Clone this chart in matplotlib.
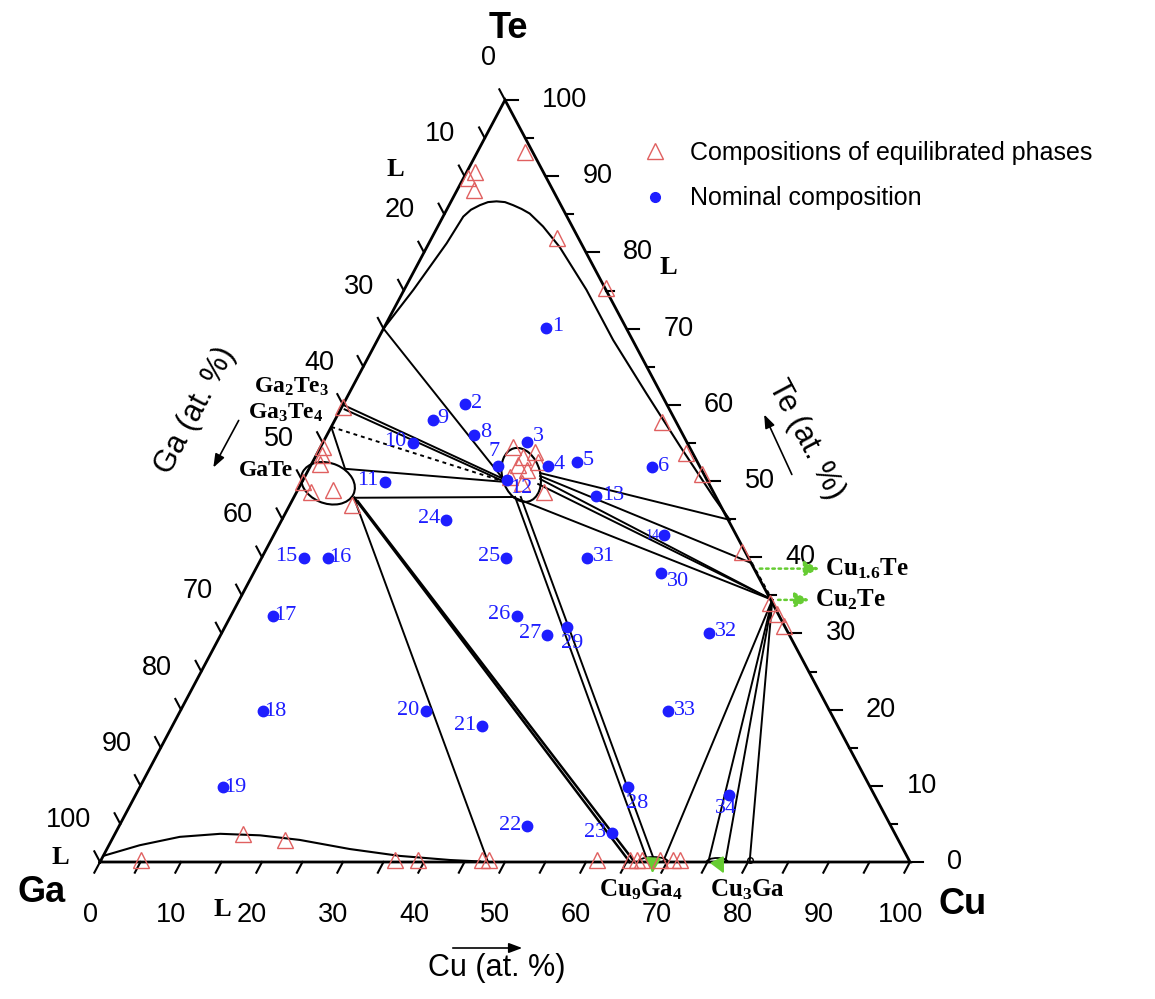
import numpy as np
import matplotlib.pyplot as plt
from matplotlib.patches import Ellipse, Arc
from matplotlib.lines import Line2D

plt.rcParams['font.family'] = ['Liberation Sans', 'DejaVu Sans']
plt.rcParams['mathtext.fontset'] = 'custom'
plt.rcParams['mathtext.rm'] = 'Liberation Serif:bold'
plt.rcParams['mathtext.it'] = 'Liberation Serif:bold'
plt.rcParams['mathtext.bf'] = 'Liberation Serif:bold'

SERIF = 'Liberation Serif'
RED = '#e06060'
BLUE = '#1e1eff'
GREEN = '#66cc33'
W, H = 1155, 999

# nominal alloy compositions (Cu at.%, Te at.%)
alloy_id = list(range(1, 35))
alloy_cu = [20.0, 15.0, 25.2, 29.3, 32.6, 42.2, 23.1, 18.2, 12.1, 11.1, 10.2, 25.2,
            37.2, 48.2, 5.2, 8.2, 5.2, 10.2, 10.3, 30.3, 38.3, 50.4, 61.3, 20.3,
            30.2, 35.3, 40.3, 60.3, 42.3, 50.3, 40.2, 60.1, 60.2, 73.3]
alloy_te = [70.1, 60.1, 55.1, 52.0, 52.5, 51.8, 52.0, 56.0, 58.0, 55.0, 49.9, 50.1,
            48.0, 42.9, 39.9, 39.9, 32.3, 19.8, 9.8, 19.8, 17.8, 4.7, 3.8, 44.9,
            39.9, 32.3, 29.8, 9.8, 30.8, 37.9, 39.9, 30.1, 19.8, 8.8]

# measured compositions of equilibrated phases (Cu at.%, Te at.%)
phase_cu = [5.9, 1.0, 0.5, 2.1, 15.5, 24.8, 40.5, 45.5, 48.9, 58.9, 65.7, 67.3, 68.9,
            0.15, 0.3, 0.7, 1.1, 0.1, 1.7, 4.4, 7.7,
            23.7, 25.7, 26.8, 25.55, 27.0, 27.8, 30.5, 25.35, 27.25,
            4.9, 15.8, 21.4, 36.3, 39.1, 47.0, 47.9, 61.2, 65.3, 66.2, 66.8, 69.0, 70.6, 71.5]
phase_te = [93.2, 90.6, 89.8, 88.2, 81.9, 75.3, 57.7, 53.7, 50.9, 40.7, 34.0, 32.5, 31.0,
            59.7, 54.5, 53.4, 52.2, 49.9, 48.6, 48.8, 46.9,
            54.5, 53.1, 53.8, 52.1, 51.4, 52.5, 48.6, 50.5, 49.7,
            0.3, 3.7, 2.9, 0.3, 0.3, 0.3, 0.3, 0.3, 0.3, 0.3, 0.3, 0.3, 0.3, 0.3]

# Te-rich liquid boundary
liq_cu = [0.0, 1.15, 2.2, 2.5, 3.0, 3.8, 4.6, 5.6, 6.7, 7.9, 9.2, 10.5, 13.0, 16.4,
          22.5, 29.1, 36.7, 44.4, 51.8, 55.3]
liq_te = [70.0, 75.1, 81.2, 84.7, 85.6, 86.2, 86.6, 86.7, 86.6, 86.2, 85.7, 85.1, 83.4, 80.7,
          75.1, 68.5, 61.5, 54.5, 47.9, 44.9]

# Ga-rich liquid boundary
gal_cu = [0.0, 3.8, 8.2, 13.0, 18.0, 23.2, 30.0, 36.6, 43.1, 46.9]
gal_te = [0.8, 2.2, 3.3, 3.7, 3.5, 2.9, 1.7, 0.8, 0.26, 0.07]

# key compositions (Cu, Te)
L_TE = (0.0, 70.0)
GA2TE3 = (0.0, 60.0)
GA3TE4 = (0.0, 57.1)
CU16TE = (60.9, 39.2)
CU2TE = (65.8, 34.4)
LIQ_END = (55.3, 44.9)
CUGATE2 = (26.6, 50.8)
GATE = (3.3, 49.7)
CU9GA4 = (68.3, 0.0)
CU3GA = (76.2, 0.0)

tie_lines = [
    (L_TE, (24.6, 50.3)),
    (GA2TE3, (24.6, 50.3)),
    ((0.5, 59.4), (25.0, 49.9)),
    (GA3TE4, (4.45, 51.6)),
    ((4.45, 51.6), (24.8, 49.9)),
    ((7.5, 47.8), (27.0, 47.9)),
    ((7.7, 47.5), (47.9, 0.0)),
    ((27.3, 47.9), (67.65, 0.0)),
    ((28.0, 47.9), (68.5, 0.0)),
    ((28.8, 51.05), LIQ_END),
    ((29.0, 50.66), CU16TE),
    ((29.2, 50.26), CU2TE),
    ((29.3, 49.6), CU2TE),
    ((27.0, 47.9), CU2TE),
    (CU2TE, (69.5, 0.0)),
    (CU2TE, (75.1, 0.0)),
    (CU2TE, (77.2, 0.0)),
    (CU2TE, (80.2, 0.0)),
]
thick_lines = [((7.5, 47.8), (65.4, 0.0)), ((8.2, 47.3), (66.0, 0.0))]
dotted_lines = [(GA3TE4, (24.3, 50.1)), (CU16TE, CU2TE)]


def tern(cu, te):
    cu = np.asarray(cu, float)
    te = np.asarray(te, float)
    return cu + te / 2, te


def fpx(x, y):
    # position given in pixels from the top-left corner
    return x / W, 1 - y / H


fig = plt.figure(figsize=(W / 100, H / 100), dpi=100)
ax = fig.add_axes([0, 0, 1, 1])
ax.set_xlim(-100 / 8.1, (W - 100) / 8.1)
ax.set_ylim((862 - H) / 7.62, 862 / 7.62)
ax.axis('off')

# triangle frame
ax.plot(*tern([0, 100, 0, 0], [0, 0, 100, 0]), color='k', lw=2, solid_joinstyle='miter')

# ticks and tick labels
for v in range(0, 101, 5):
    major = v % 10 == 0
    # bottom (Cu)
    x, y = tern(v, 0)
    ax.plot([x, x - 0.7], [y, y - 1.4], color='k', lw=1.5)
    # right (Te)
    x, y = tern(100 - v, v)
    ax.plot([x, x + (1.6 if major else 0.9)], [y, y], color='k', lw=1.5)
    # left (Ga)
    x, y = tern(0, 100 - v)
    ax.plot([x, x - 0.7], [y, y + 1.4], color='k', lw=1.5)
    if major:
        ax.annotate(str(v), tern(v, 0), xytext=(-10, -53), textcoords='offset pixels',
                    ha='center', va='center', fontsize=19.5)
        ax.annotate(str(v), tern(100 - v, v), xytext=(37, 0), textcoords='offset pixels',
                    ha='left', va='center', fontsize=19.5)
        ax.annotate(str(v), tern(0, 100 - v), xytext=(-9, 42), textcoords='offset pixels',
                    ha='right', va='center', fontsize=19.5)

# phase boundaries
ax.plot(*tern(liq_cu, liq_te), color='k', lw=1.5)
ax.plot(*tern(gal_cu, gal_te), color='k', lw=1.5)
for a, b in tie_lines:
    ax.plot(*tern([a[0], b[0]], [a[1], b[1]]), color='k', lw=1.4)
for a, b in thick_lines:
    ax.plot(*tern([a[0], b[0]], [a[1], b[1]]), color='k', lw=1.8)
for a, b in dotted_lines:
    ax.plot(*tern([a[0], b[0]], [a[1], b[1]]), color='k', lw=1.4, ls=(0, (2, 2)))

# homogeneity ranges
ax.add_patch(Ellipse(tern(*CUGATE2), 4.7, 7.2, angle=14, fill=False, ec='k', lw=1.5, zorder=3))
ax.add_patch(Ellipse(tern(*GATE), 6.9, 5.25, angle=-25, fill=False, ec='k', lw=1.5, zorder=3))
ax.add_patch(Arc(tern(*CU9GA4), 3.7, 1.3, theta1=0, theta2=180, ec='k', lw=1.3))
ax.add_patch(Arc(tern(*CU3GA), 2.6, 1.05, theta1=0, theta2=180, ec='k', lw=1.3))
ax.plot(*tern(80.1, 0.3), 'o', mfc='none', mec='k', ms=4, mew=1)

# data points
ax.plot(*tern(phase_cu, phase_te), '^', mfc='none', mec=RED, ms=11, mew=1, ls='none', zorder=4)
ax.plot(*tern(alloy_cu, alloy_te), 'o', color=BLUE, ms=7.5, ls='none', zorder=5)

# alloy numbers: (dx, dy, ha) in pixels
label_pos = {3: (6, 6, 'left'), 7: (-4, 14, 'center'), 8: (6, 3, 'left'), 9: (4, 2, 'left'),
             12: (14, -8, 'center'), 14: (-11, 0, 'center'), 16: (1, 0, 'left'),
             17: (1, 0, 'left'), 18: (1, 0, 'left'), 19: (1, 0, 'left'),
             28: (9, -16, 'center'), 29: (5, -16, 'center'), 30: (17, -8, 'center'),
             34: (-3, -14, 'center')}
left_side = [10, 11, 15, 20, 21, 22, 23, 24, 25, 26, 27]
for n, cu, te in zip(alloy_id, alloy_cu, alloy_te):
    if n in label_pos:
        dx, dy, ha = label_pos[n]
    elif n in left_side:
        dx, dy, ha = -6, 1, 'right'
    else:
        dx, dy, ha = 6, 1, 'left'
    ax.annotate(str(n), tern(cu, te), xytext=(dx, dy), textcoords='offset pixels',
                ha=ha, va='center', color=BLUE, family=SERIF,
                fontsize=10 if n == 14 else 16, zorder=6)

# phase names
ax.annotate('Ga$_2$Te$_3$', tern(*GA2TE3), xytext=(-14, 18), textcoords='offset pixels',
            ha='right', va='center', family=SERIF, weight='bold', fontsize=17)
ax.annotate('Ga$_3$Te$_4$', tern(*GA3TE4), xytext=(-8, 14), textcoords='offset pixels',
            ha='right', va='center', family=SERIF, weight='bold', fontsize=17)
ax.annotate('GaTe', tern(0, 50), xytext=(-10, 11), textcoords='offset pixels',
            ha='right', va='center', family=SERIF, weight='bold', fontsize=17)

# green pointers to the Cu-Te and Cu-Ga phases
head = '-|>,head_length=0.9,head_width=0.45'
for name, comp, length in [('Cu$_{1.6}$Te', (61.5, 38.5), 68), ('Cu$_2$Te', CU2TE, 40)]:
    p = ax.transData.transform(tern(*comp))
    ax.annotate('', xy=(p[0] + length, p[1]), xytext=(p[0] + 3, p[1]),
                xycoords='figure pixels', textcoords='figure pixels',
                arrowprops=dict(arrowstyle=head, color=GREEN, lw=1.8, ls=(0, (1, 1.5))))
    ax.annotate(name, (p[0] + length + 3, p[1]), xycoords='figure pixels',
                ha='left', va='center', family=SERIF, weight='bold', fontsize=18)

for name, comp, tip, lab in [('Cu$_9$Ga$_4$', CU9GA4, (-1, -14), (-12, -28)),
                             ('Cu$_3$Ga', CU3GA, (8, -14), (30, -28))]:
    p = ax.transData.transform(tern(*comp))
    ax.annotate('', xy=(p[0] + tip[0], p[1] + tip[1]), xytext=(p[0], p[1] + 2),
                xycoords='figure pixels', textcoords='figure pixels',
                arrowprops=dict(arrowstyle=head, color=GREEN, lw=1.5))
    ax.annotate(name, (p[0] + lab[0], p[1] + lab[1]), xycoords='figure pixels',
                ha='center', va='center', family=SERIF, weight='bold', fontsize=18)

# liquid labels
for x, y in [(395, 170), (668, 268), (60, 858), (222, 910)]:
    fig.text(*fpx(x, y), 'L', ha='center', va='center', family=SERIF, weight='bold', fontsize=19)

# corner labels
fig.text(*fpx(508, 28), 'Te', ha='center', va='center', weight='bold', fontsize=26)
fig.text(*fpx(42, 893), 'Ga', ha='center', va='center', weight='bold', fontsize=26)
fig.text(*fpx(963, 905), 'Cu', ha='center', va='center', weight='bold', fontsize=26)

# axis titles with arrows
arrow = dict(arrowstyle='-|>,head_length=0.8,head_width=0.3', color='k', lw=1.2)
fig.text(*fpx(497, 968), 'Cu (at. %)', ha='center', va='center', fontsize=22)
ax.annotate('', xy=(525, H - 948), xytext=(450, H - 948), xycoords='figure pixels',
            textcoords='figure pixels', arrowprops=arrow)
fig.text(*fpx(806, 440), 'Te (at. %)', ha='center', va='center', fontsize=22,
         rotation=-62, rotation_mode='anchor')
ax.annotate('', xy=(763, H - 412), xytext=(793, H - 477), xycoords='figure pixels',
            textcoords='figure pixels', arrowprops=arrow)
fig.text(*fpx(195, 410), 'Ga (at. %)', ha='center', va='center', fontsize=22,
         rotation=62, rotation_mode='anchor')
ax.annotate('', xy=(212, H - 470), xytext=(240, H - 418), xycoords='figure pixels',
            textcoords='figure pixels', arrowprops=arrow)

# legend
handles = [Line2D([], [], marker='^', mfc='none', mec=RED, ms=11, ls='none'),
           Line2D([], [], marker='o', color=BLUE, ms=7, ls='none')]
ax.legend(handles, ['Compositions of equilibrated phases', 'Nominal composition'],
          loc='upper left', bbox_to_anchor=fpx(640, 141), bbox_transform=fig.transFigure,
          frameon=False, fontsize=18, handlelength=1.2, handletextpad=0.8,
          labelspacing=0.85, borderpad=0, borderaxespad=0)

fig.savefig('out.png', dpi=100)
